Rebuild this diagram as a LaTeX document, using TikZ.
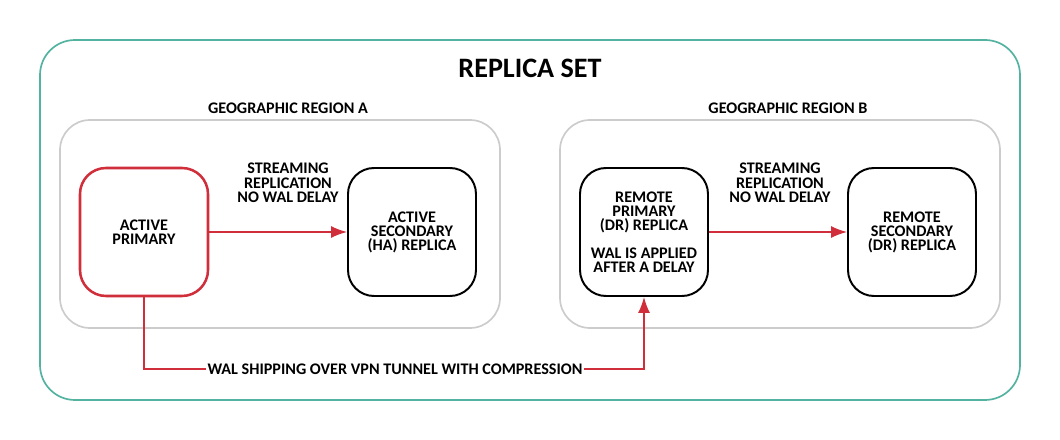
\documentclass[tikz,border=0pt]{standalone}
\usepackage{fontspec}
\setmainfont{Carlito}
\usepackage{tikz}
\usetikzlibrary{arrows.meta}
\definecolor{setteal}{RGB}{84,179,160}
\definecolor{walred}{RGB}{208,46,58}
\definecolor{regiongray}{RGB}{204,204,204}

\begin{document}
\begin{tikzpicture}[
    font=\bfseries\fontsize{11.5}{10}\selectfont,
    server/.style={draw, line width=1.4pt, rounded corners=0.65cm,
      minimum width=3.2cm, minimum height=3.2cm, align=center},
    region/.style={draw=regiongray, line width=1.2pt, rounded corners=0.75cm},
    link/.style={walred, line width=1pt, -{Latex[length=4mm,width=3mm]}},
    note/.style={align=center}
  ]
    \def \boxy {5.2}
    \useasboundingbox (0,0) rectangle (26.5,11);
    % replica set
    \draw[setteal, line width=1.2pt, rounded corners=0.875cm] (1,1) rectangle (25.5,10);
    \node (title) at (13.25,9.3) {\fontsize{20}{22}\selectfont REPLICA SET};
    % regions
    \draw[region] (1.5,2.8) rectangle (12.5,8);
    \draw[region] (14,2.8) rectangle (25,8);
    \node (regA) at (7.2,8.3) {GEOGRAPHIC REGION A};
    \node (regB) at (19.7,8.3) {GEOGRAPHIC REGION B};
    % servers
    \node[server, draw=walred, line width=1.8pt] (primary) at (3.6,\boxy) {ACTIVE\\PRIMARY};
    \node[server] (secondary) at (10.3,\boxy) {ACTIVE\\SECONDARY\\(HA) REPLICA};
    \node[server] (drprimary) at (16.1,\boxy) {REMOTE\\PRIMARY\\(DR) REPLICA\\[10pt]WAL IS APPLIED\\AFTER A DELAY};
    \node[server] (drsecondary) at (22.8,\boxy) {REMOTE\\SECONDARY\\(DR) REPLICA};
    \foreach \x/\a/\b in {7.2/primary/secondary, 19.5/drprimary/drsecondary}
    {
      \node[note] at (\x,6.43) {STREAMING\\REPLICATION\\NO WAL DELAY};
      \draw[link] (\a) -- (\b);
    }
    % shipping between regions
    \coordinate (bendA) at (3.6,1.775);
    \coordinate (bendB) at (16.1,1.775);
    \draw[link] (primary.south) -- (bendA) -- (bendB) -- (drprimary.south);
    \node[fill=white, inner sep=1pt] (ship) at (9.875,1.775) {WAL SHIPPING OVER VPN TUNNEL WITH COMPRESSION};
\end{tikzpicture}
\end{document}
